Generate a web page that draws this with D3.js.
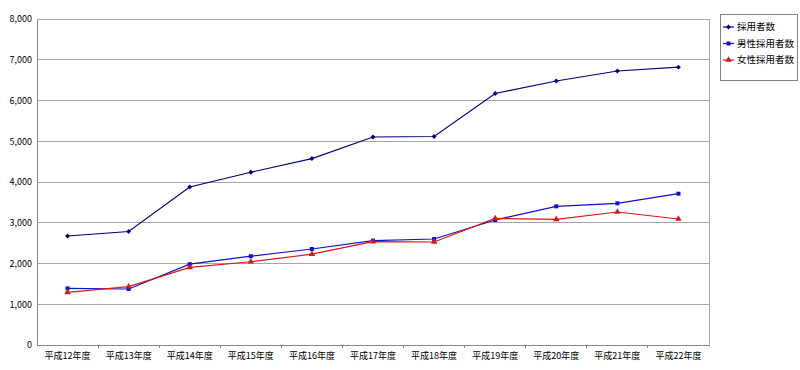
<!DOCTYPE html>
<html><head><meta charset="utf-8">
<script src="https://cdn.jsdelivr.net/npm/d3@7"></script>
<style>body{margin:0;background:#fff}svg{display:block}text{font-family:"Noto Sans CJK JP","Noto Sans",sans-serif}</style>
</head><body><svg id="c" width="800" height="370"></svg>
<script>
const categories = ["平成12年度","平成13年度","平成14年度","平成15年度","平成16年度","平成17年度","平成18年度","平成19年度","平成20年度","平成21年度","平成22年度"];
const totalValues = [2675,2785,3877,4240,4575,5104,5117,6172,6479,6724,6818];
const maleValues = [1390,1374,1984,2180,2356,2560,2601,3067,3403,3477,3713];
const femaleValues = [1293,1431,1906,2043,2228,2536,2528,3108,3084,3264,3092];
const seriesNames = ["採用者数","男性採用者数","女性採用者数"];
const yTicks = [0,1000,2000,3000,4000,5000,6000,7000,8000];

const series = [
  {name: seriesNames[0], values: totalValues, color: "#000080", marker: "diamond"},
  {name: seriesNames[1], values: maleValues, color: "#1010d0", marker: "square"},
  {name: seriesNames[2], values: femaleValues, color: "#d81818", marker: "triangle"}
];

const svg = d3.select("#c");
const L = 37, R = 709, T = 19, B = 345;
const x = d3.scaleBand().domain(categories).range([L, R]);
const y = d3.scaleLinear().domain([0, 8000]).range([B, T]);

svg.append("g").selectAll("line").data(yTicks.filter(d => d > 0)).join("line")
  .attr("x1", L).attr("x2", R).attr("y1", d => y(d)).attr("y2", d => y(d))
  .attr("stroke", "#a6a6a6").attr("stroke-width", 1).attr("shape-rendering", "crispEdges");
svg.append("line").attr("x1", R).attr("x2", R).attr("y1", T).attr("y2", B)
  .attr("stroke", "#a6a6a6").attr("shape-rendering", "crispEdges");

const yAxis = svg.append("g").attr("transform", `translate(${L},0)`)
  .call(d3.axisLeft(y).tickValues(yTicks).tickFormat(d3.format(",")).tickSize(0).tickPadding(5));
yAxis.select(".domain").attr("stroke", "#888").attr("shape-rendering", "crispEdges");
yAxis.selectAll("text").attr("font-size", 9).attr("fill", "#000").attr("font-family", "Liberation Sans, Arial, sans-serif");

const xAxis = svg.append("g").attr("transform", `translate(0,${B})`)
  .call(d3.axisBottom(x).tickSize(0).tickPadding(8));
xAxis.select(".domain").attr("stroke", "#888").attr("shape-rendering", "crispEdges");
xAxis.selectAll("text").attr("font-size", 9).attr("fill", "#000");
svg.append("g").selectAll("line").data(categories.slice(1)).join("line")
  .attr("x1", d => x(d)).attr("x2", d => x(d)).attr("y1", B).attr("y2", B + 3)
  .attr("stroke", "#888").attr("shape-rendering", "crispEdges");

const cx = d => x(d) + x.bandwidth() / 2;
const sym = {diamond: d3.symbolSquare, square: d3.symbolSquare, triangle: d3.symbolTriangle};
const size = {diamond: 12, square: 16, triangle: 18};
const rot = {diamond: 45, square: 0, triangle: 0};

series.forEach(s => {
  const line = d3.line().x((v, i) => cx(categories[i])).y(v => y(v));
  svg.append("path").datum(s.values).attr("d", line)
    .attr("fill", "none").attr("stroke", s.color).attr("stroke-width", 1.2);
  svg.append("g").selectAll("path").data(s.values).join("path")
    .attr("d", d3.symbol().type(sym[s.marker]).size(size[s.marker]))
    .attr("transform", (v, i) => `translate(${cx(categories[i])},${y(v)}) rotate(${rot[s.marker]})`)
    .attr("fill", s.color);
});

const lg = svg.append("g");
lg.append("rect").attr("x", 720.5).attr("y", 14.5).attr("width", 77).attr("height", 66)
  .attr("fill", "#fff").attr("stroke", "#808080");
series.forEach((s, i) => {
  const yy = 27 + i * 16.5;
  lg.append("line").attr("x1", 723).attr("x2", 734).attr("y1", yy).attr("y2", yy)
    .attr("stroke", s.color).attr("stroke-width", 1.2);
  lg.append("path").attr("d", d3.symbol().type(sym[s.marker]).size(size[s.marker]))
    .attr("transform", `translate(728.5,${yy}) rotate(${rot[s.marker]})`).attr("fill", s.color);
  lg.append("text").attr("x", 737).attr("y", yy).attr("dy", "0.35em")
    .attr("font-size", 9.5).attr("fill", "#000").text(s.name);
});
</script></body></html>
